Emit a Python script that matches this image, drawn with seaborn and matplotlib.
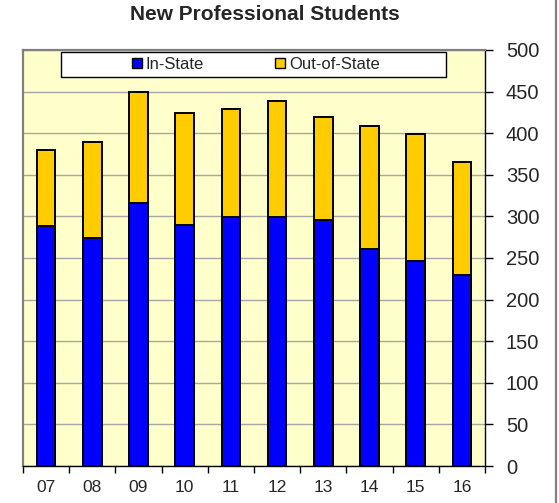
import matplotlib
matplotlib.use("Agg")
import matplotlib.pyplot as plt
from matplotlib.patches import Patch, Rectangle
from matplotlib.lines import Line2D
import pandas as pd
import seaborn as sns

years = ["07", "08", "09", "10", "11", "12", "13", "14", "15", "16"]
in_state = [288, 274, 316, 290, 299, 299, 296, 261, 246, 229]
out_state = [92, 115, 133, 134, 130, 140, 124, 148, 153, 136]

BLUE = "#0000FF"
GOLD = "#FFCC00"

df = pd.DataFrame({"year": years, "in": in_state, "out": out_state})
df["total"] = df["in"] + df["out"]

sns.set_theme(style="white")
plt.rcParams["font.family"] = ["Liberation Sans", "DejaVu Sans"]

fig = plt.figure(figsize=(5.59, 5.03), dpi=100)
ax = fig.add_axes([23 / 559, 37 / 503, 462 / 559, 416 / 503])
ax.set_facecolor("#FFFFCC")

# totals first (gold), in-state drawn over the bottom part
sns.barplot(data=df, x="year", y="total", color=GOLD, saturation=1, width=0.4,
            edgecolor="black", linewidth=1.4, ax=ax)
sns.barplot(data=df, x="year", y="in", color=BLUE, saturation=1, width=0.4,
            edgecolor="black", linewidth=1.4, ax=ax)

ax.set_xlim(-0.5, 9.5)
ax.set_ylim(0, 500)
ax.set_yticks(range(0, 501, 50))
ax.yaxis.tick_right()
ax.set_xlabel("")
ax.set_ylabel("")
ax.set_axisbelow(True)
ax.grid(axis="y", color="#a6a6a6", lw=1)

ax.tick_params(axis="y", which="major", right=True, direction="out", length=6,
               width=1, color="black", labelsize=14.5, pad=9)
ax.set_xticks([i - 0.5 for i in range(11)], minor=True)
ax.tick_params(axis="x", which="minor", bottom=True, direction="out", length=5,
               width=1, color="black")
ax.tick_params(axis="x", which="major", length=0, labelsize=12.5, pad=10)

for side in ["top", "left"]:
    ax.spines[side].set_color("#808080")
    ax.spines[side].set_linewidth(1.6)
for side in ["right", "bottom"]:
    ax.spines[side].set_color("black")
    ax.spines[side].set_linewidth(1)

# legend box
ax.add_patch(Rectangle((0.0816, 0.935), 0.835, 0.06, transform=ax.transAxes,
                       facecolor="white", edgecolor="black", lw=1, zorder=4))
handles = [Patch(facecolor=BLUE, edgecolor="black", lw=1, label="In-State"),
           Patch(facecolor=GOLD, edgecolor="black", lw=1, label="Out-of-State")]
leg = ax.legend(handles=handles, loc="center", bbox_to_anchor=(0.504, 0.965),
                ncol=2, frameon=False, fontsize=12, handlelength=0.6,
                handleheight=0.6, handletextpad=0.2, columnspacing=4.3)
leg.set_zorder(5)

fig.text(265 / 559, 1 - 15 / 503, "New Professional Students", ha="center",
         va="center", fontsize=15, fontweight="bold")
fig.add_artist(Line2D([556 / 559, 556 / 559], [0, 1], color="#808080", lw=1.6))

fig.savefig("out.png", dpi=100)
